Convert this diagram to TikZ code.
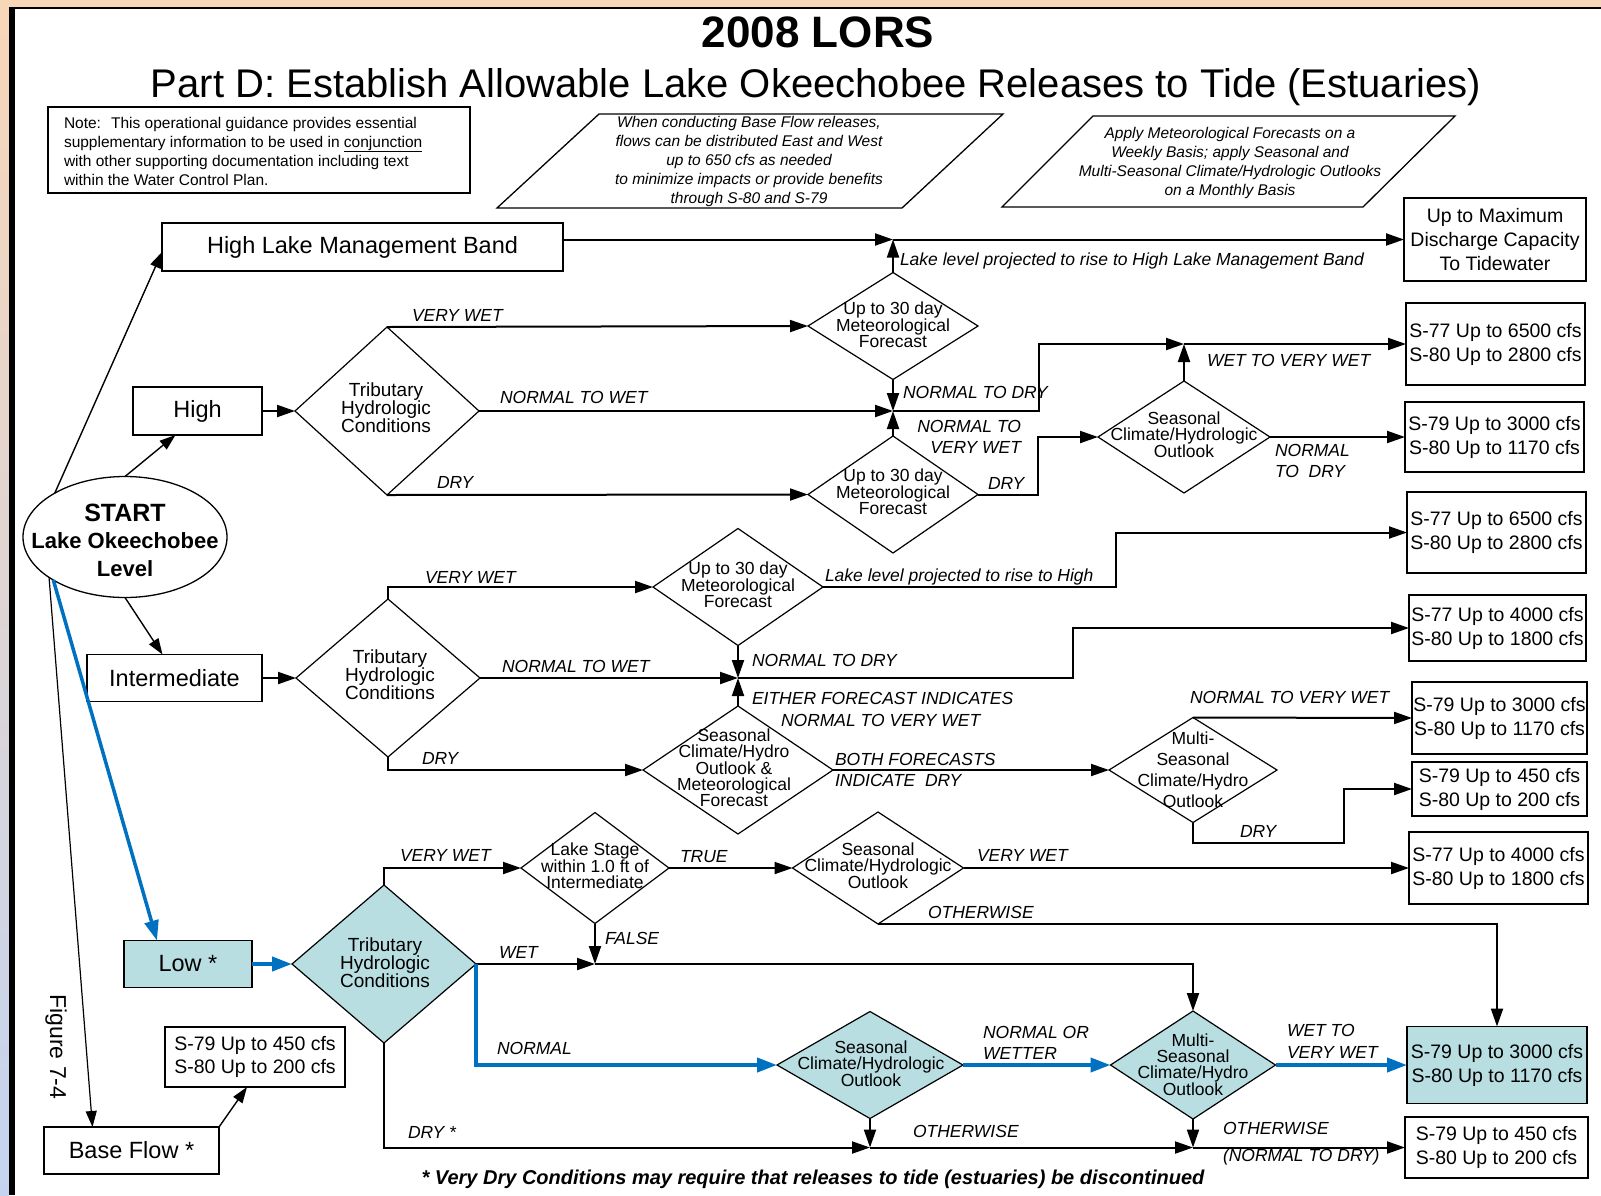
\documentclass[tikz,border=0pt]{standalone}
\usepackage{fontspec}
\setmainfont{Liberation Sans}
\usetikzlibrary{arrows.meta,shapes.geometric,calc}
\definecolor{teal1}{RGB}{184,222,226}
\definecolor{blue1}{RGB}{0,112,192}
\definecolor{peach}{RGB}{248,214,184}
\definecolor{lav}{RGB}{196,212,240}
\tikzset{
 conn/.style={line width=2pt, -{Triangle[length=18pt,width=12pt]}},
 sarr/.style={line width=1.4pt, -{Triangle[length=16pt,width=11pt]}},
 bconn/.style={line width=4pt, draw=blue1, -{Triangle[length=20pt,width=14pt]}, blue1},
 boxs/.style={draw, line width=1.3pt, rectangle, align=center},
 dia/.style={draw, line width=1.2pt, diamond},
 fbig/.style={font=\fontsize{23.5}{28}\selectfont},
 fres/.style={font=\fontsize{19.5}{24}\selectfont},
 fdia/.style={font=\fontsize{17.5}{16}\selectfont, align=center},
 ftrib/.style={font=\fontsize{19}{18}\selectfont, align=center},
 lab/.style={font=\fontsize{17.5}{21}\selectfont\itshape, anchor=west},
}
\begin{document}
\begin{tikzpicture}[x=1pt,y=-1pt, every node/.style={inner sep=0pt,outer sep=0pt}]
\useasboundingbox (0,0) rectangle (1601,1195);
\fill[white] (0,0) rectangle (1601,1195);
\fill[peach] (0,0) rectangle (1601,7);
\shade[top color=peach, bottom color=lav] (0,0) rectangle (9,1195);
\fill[black] (9,7) rectangle (15,1195);
\draw[line width=2pt] (9,8) -- (1601,8);

% titles
\node[anchor=base, font=\fontsize{44}{50}\selectfont\bfseries] (title) at (818,47) {2008 LORS};
\node[anchor=base, font=\fontsize{40}{46}\selectfont] (subtitle) at (816,97) {Part D: Establish Allowable Lake Okeechobee Releases to Tide (Estuaries)};

% note
\node[draw, line width=1.3pt, minimum width=422pt, minimum height=86pt] (note) at (259,150) {};
\node[anchor=west, align=left, font=\fontsize{15.5}{19}\selectfont] (notet) at (64,151) {Note:~ This operational guidance provides essential\\supplementary information to be used in \underline{conjunction}\\with other supporting documentation including text\\within the Water Control Plan.};

% parallelograms
\draw[line width=1.3pt] (497,208) -- (599,114) -- (1003,114) -- (902,208) -- cycle;
\node[align=center, font=\fontsize{15.5}{19}\selectfont\itshape] (p1t) at (749,161) {When conducting Base Flow releases,\\flows can be distributed East and West\\up to 650 cfs as needed\\to minimize impacts or provide benefits\\through S-80 and S-79};
\draw[line width=1.3pt] (1002,207) -- (1093,116) -- (1455,116) -- (1363,207) -- cycle;
\node[align=center, font=\fontsize{15.5}{19}\selectfont\itshape] (p2t) at (1230,163) {Apply Meteorological Forecasts on a\\Weekly Basis; apply Seasonal and\\Multi-Seasonal Climate/Hydrologic Outlooks\\on a Monthly Basis};

% start ellipse
\node[draw, ellipse, line width=1.3pt, minimum width=204pt, minimum height=121pt] (start) at (125,537) {};
\node[anchor=base, font=\fontsize{25}{28}\selectfont\bfseries] (st1) at (125,521) {START};
\node[anchor=base, font=\fontsize{22}{28}\selectfont\bfseries] (st2) at (125,548) {Lake Okeechobee};
\node[anchor=base, font=\fontsize{22}{28}\selectfont\bfseries] (st3) at (125,576) {Level};

% left boxes
\node[boxs, fbig, minimum width=401pt, minimum height=48pt] (hlmb) at (362.5,247) {High Lake Management Band};
\node[boxs, fbig, minimum width=129pt, minimum height=48pt] (high) at (197.5,411) {High};
\node[boxs, fbig, minimum width=175pt, minimum height=47pt] (inter) at (174.5,678) {Intermediate};
\node[boxs, fbig, fill=teal1, minimum width=128pt, minimum height=47pt] (low) at (188,964) {Low *};
\node[boxs, fbig, minimum width=175pt, minimum height=47pt] (base) at (131.5,1150.5) {Base Flow *};
\node[boxs, font=\fontsize{19.5}{23}\selectfont, minimum width=180pt, minimum height=60pt] (bf) at (255,1057) {S-79 Up to 450 cfs\\S-80 Up to 200 cfs};
\node[rotate=-90, font=\fontsize{23}{28}\selectfont] (fig) at (56,1047) {Figure 7-4};

% result boxes
\node[boxs, fres, minimum width=182pt, minimum height=83pt] (r1) at (1495,239.5) {Up to Maximum\\Discharge Capacity\\To Tidewater};
\node[boxs, fres, minimum width=179pt, minimum height=82pt] (r2) at (1495.5,344) {S-77 Up to 6500 cfs\\S-80 Up to 2800 cfs};
\node[boxs, fres, minimum width=179pt, minimum height=70pt] (r3) at (1494.5,437) {S-79 Up to 3000 cfs\\S-80 Up to 1170 cfs};
\node[boxs, fres, minimum width=179pt, minimum height=81pt] (r4) at (1496.5,532.5) {S-77 Up to 6500 cfs\\S-80 Up to 2800 cfs};
\node[boxs, fres, minimum width=177pt, minimum height=66pt] (r5) at (1497.5,628) {S-77 Up to 4000 cfs\\S-80 Up to 1800 cfs};
\node[boxs, fres, minimum width=175pt, minimum height=72pt] (r6) at (1499.5,718) {S-79 Up to 3000 cfs\\S-80 Up to 1170 cfs};
\node[boxs, fres, minimum width=175pt, minimum height=54pt] (r7) at (1499.5,789) {S-79 Up to 450 cfs\\S-80 Up to 200 cfs};
\node[boxs, fres, minimum width=179pt, minimum height=72pt] (r8) at (1498.5,868) {S-77 Up to 4000 cfs\\S-80 Up to 1800 cfs};
\node[boxs, fres, fill=teal1, minimum width=180pt, minimum height=77pt] (r9) at (1497,1065) {S-79 Up to 3000 cfs\\S-80 Up to 1170 cfs};
\node[boxs, fres, minimum width=183pt, minimum height=61pt] (r10) at (1496.5,1147.5) {S-79 Up to 450 cfs\\S-80 Up to 200 cfs};

% diamonds
\node[dia, minimum width=184pt, minimum height=168pt] (t1) at (387,411) {};
\node[ftrib] (t1t) at (386,408) {Tributary\\Hydrologic\\Conditions};
\node[dia, minimum width=170pt, minimum height=107pt] (met1) at (893,326) {};
\node[fdia] (met1t) at (893,325) {Up to 30 day\\Meteorological\\Forecast};
\node[dia, minimum width=170pt, minimum height=117pt] (met2) at (893,494.5) {};
\node[fdia] (met2t) at (893,492) {Up to 30 day\\Meteorological\\Forecast};
\node[dia, minimum width=172pt, minimum height=112pt] (sea1) at (1184,437) {};
\node[fdia] (sea1t) at (1184,435) {Seasonal\\Climate/Hydrologic\\Outlook};

\node[dia, minimum width=184pt, minimum height=158pt] (t2) at (388,678) {};
\node[ftrib] (t2t) at (390,675) {Tributary\\Hydrologic\\Conditions};
\node[dia, minimum width=170pt, minimum height=117pt] (met3) at (738,587) {};
\node[fdia] (met3t) at (738,585) {Up to 30 day\\Meteorological\\Forecast};
\node[dia, minimum width=190pt, minimum height=128pt] (sm) at (738,770) {};
\node[fdia] (smt) at (734,768) {Seasonal\\Climate/Hydro\\Outlook \&\\Meteorological\\Forecast};
\node[dia, minimum width=168pt, minimum height=105pt] (ms1) at (1193,770) {};
\node[align=center, font=\fontsize{17.5}{21}\selectfont] (ms1t) at (1193,770) {Multi-\\Seasonal\\Climate/Hydro\\Outlook};

\node[dia, fill=teal1, minimum width=184pt, minimum height=158pt] (t3) at (384,964) {};
\node[ftrib] (t3t) at (385,963) {Tributary\\Hydrologic\\Conditions};
\node[dia, minimum width=148pt, minimum height=111pt] (ls) at (595,868) {};
\node[fdia] (lst) at (595,866) {Lake Stage\\within 1.0 ft of\\Intermediate};
\node[dia, minimum width=171pt, minimum height=112pt] (sc2) at (878,868) {};
\node[fdia] (sc2t) at (878,866) {Seasonal\\Climate/Hydrologic\\Outlook};
\node[dia, fill=teal1, minimum width=186pt, minimum height=107pt] (sc3) at (870,1065) {};
\node[fdia] (sc3t) at (871,1064) {Seasonal\\Climate/Hydrologic\\Outlook};
\node[dia, fill=teal1, minimum width=165pt, minimum height=108pt] (ms2) at (1193,1065) {};
\node[fdia] (ms2t) at (1193,1065) {Multi-\\Seasonal\\Climate/Hydro\\Outlook};

% junctions
\coordinate (jA) at (met1.north |- r1.west);
\coordinate (jB) at (met1.south |- t1.east);
\coordinate (jS) at (sea1.north |- r2.west);
\coordinate (jC) at (met3.south |- t2.east);
\coordinate (jD) at (ls.south |- t3.east);
\coordinate (jE) at (sc3.south |- r10.west);
\coordinate (jF) at (ms2.south |- r10.west);

% start arrows
\draw[sarr] (start.148) -- ([yshift=-5pt]hlmb.west);
\draw[sarr] (start.north) -- ([xshift=-22pt]high.south);
\draw[sarr] (start.south) -- ([xshift=-12pt]inter.north);
\draw[sarr, line width=1.2pt] (start.208) -- ([xshift=-39pt]base.north);
\draw[bconn, line width=3.5pt] (start.211) -- ([xshift=-31pt]low.north);
\draw[sarr] (base.north east) -- ([xshift=-8pt]bf.south);

% high branch
\draw[conn] (hlmb.east |- jA) -- (jA);
\draw[conn] (met1.north) -- (jA);
\draw[conn] (jA) -- (r1.west);
\draw[conn] (high.east) -- (t1.west);
\draw[conn] (t1.north) -- (met1.west);
\draw[conn] (t1.east) -- (jB);
\draw[conn] (t1.south) -- (met2.west);
\draw[conn] (met1.south) -- (jB);
\draw[conn] (met2.north) -- (jB);
\draw[conn] (jB) -- ++(146,0) |- (jS);
\draw[conn] (sea1.north) -- (jS);
\draw[conn] (jS) -- (r2.west);
\draw[conn] (met2.east) -- ++(60,0) |- (sea1.west);
\draw[conn] (sea1.east) -- (r3.west);

% intermediate branch
\draw[conn] (inter.east) -- (t2.west);
\draw[conn] (t2.north) |- (met3.west);
\draw[conn] (met3.east) -- ++(293,0) |- (r4.west);
\draw[conn] (met3.south) -- (jC);
\draw[conn] (t2.east) -- (jC);
\draw[conn] (sm.north) -- (jC);
\draw[conn] (jC) -- ++(335,0) |- (r5.west);
\draw[conn] (t2.south) |- (sm.west);
\draw[conn] (sm.east) -- (ms1.west);
\draw[conn] (ms1.north) -- (r6.west);
\draw[conn] (ms1.south) -- ++(0,20) -| ([xshift=-68pt]r7.west) -- (r7.west);

% low branch
\draw[bconn] (low.east) -- (t3.west);
\draw[conn] (t3.north) |- (ls.west);
\draw[conn] (ls.east) -- (sc2.west);
\draw[conn] (sc2.east) -- (r8.west);
\draw[conn] (sc2.south) -| (r9.north);
\draw[conn] (ls.south) -- (jD);
\draw[conn] (t3.east) -- (jD);
\draw[conn] (jD) -| (ms2.north);
\draw[bconn] (t3.east) |- (sc3.west);
\draw[bconn] (sc3.east) -- (ms2.west);
\draw[bconn] (ms2.east) -- (r9.west);
\draw[conn] (t3.south) |- (jE);
\draw[conn] (sc3.south) -- (jE);
\draw[conn] (jE) -- (jF);
\draw[conn] (ms2.south) -- (jF);
\draw[conn] (jF) -- (r10.west);

% labels
\node[lab] (l1) at (412,315) {VERY WET};
\node[lab] (l2) at (500,397) {NORMAL TO WET};
\node[lab] (l3) at (437,482) {DRY};
\node[lab] (l4) at (900,261) {Lake level projected to rise to High Lake Management Band};
\node[lab] (l5) at (903,392) {NORMAL TO DRY};
\node[lab, anchor=east, align=right] (l6) at (1021,437) {NORMAL TO\\VERY WET};
\node[lab] (l7) at (988,483) {DRY};
\node[lab] (l8) at (1207,360) {WET TO VERY WET};
\node[lab, align=left] (l9) at (1275,461) {NORMAL\\TO~ DRY};
\node[lab] (l10) at (425,577) {VERY WET};
\node[lab] (l11) at (825,577) {Lake level projected to rise to High};
\node[lab] (l12) at (752,660) {NORMAL TO DRY};
\node[lab] (l13) at (502,666) {NORMAL TO WET};
\node[lab] (l14) at (752,698) {EITHER FORECAST INDICATES};
\node[lab] (l15) at (781,720) {NORMAL TO VERY WET};
\node[lab] (l16) at (422,758) {DRY};
\node[lab] (l17) at (835,759) {BOTH FORECASTS};
\node[lab] (l18) at (835,780) {INDICATE~ DRY};
\node[lab] (l19) at (1190,697) {NORMAL TO VERY WET};
\node[lab] (l20) at (1240,831) {DRY};
\node[lab] (l21) at (400,855) {VERY WET};
\node[lab] (l22) at (680,857) {TRUE};
\node[lab] (l23) at (977,855) {VERY WET};
\node[lab] (l24) at (928,912) {OTHERWISE};
\node[lab] (l25) at (605,938) {FALSE};
\node[lab] (l26) at (499,952) {WET};
\node[lab] (l27) at (497,1048) {NORMAL};
\node[lab] (l28) at (983,1032) {NORMAL OR};
\node[lab] (l29) at (983,1053) {WETTER};
\node[lab] (l30) at (1287,1030) {WET TO};
\node[lab] (l31) at (1287,1052) {VERY WET};
\node[lab] (l32) at (408,1132) {DRY *};
\node[lab] (l33) at (913,1131) {OTHERWISE};
\node[lab] (l34) at (1223,1128) {OTHERWISE};
\node[lab] (l35) at (1223,1157) {(NORMAL TO DRY)};

% footnote
\node[font=\fontsize{20}{24}\selectfont\bfseries\itshape] (foot) at (813,1179) {* Very Dry Conditions may require that releases to tide (estuaries) be discontinued};
\end{tikzpicture}
\end{document}
